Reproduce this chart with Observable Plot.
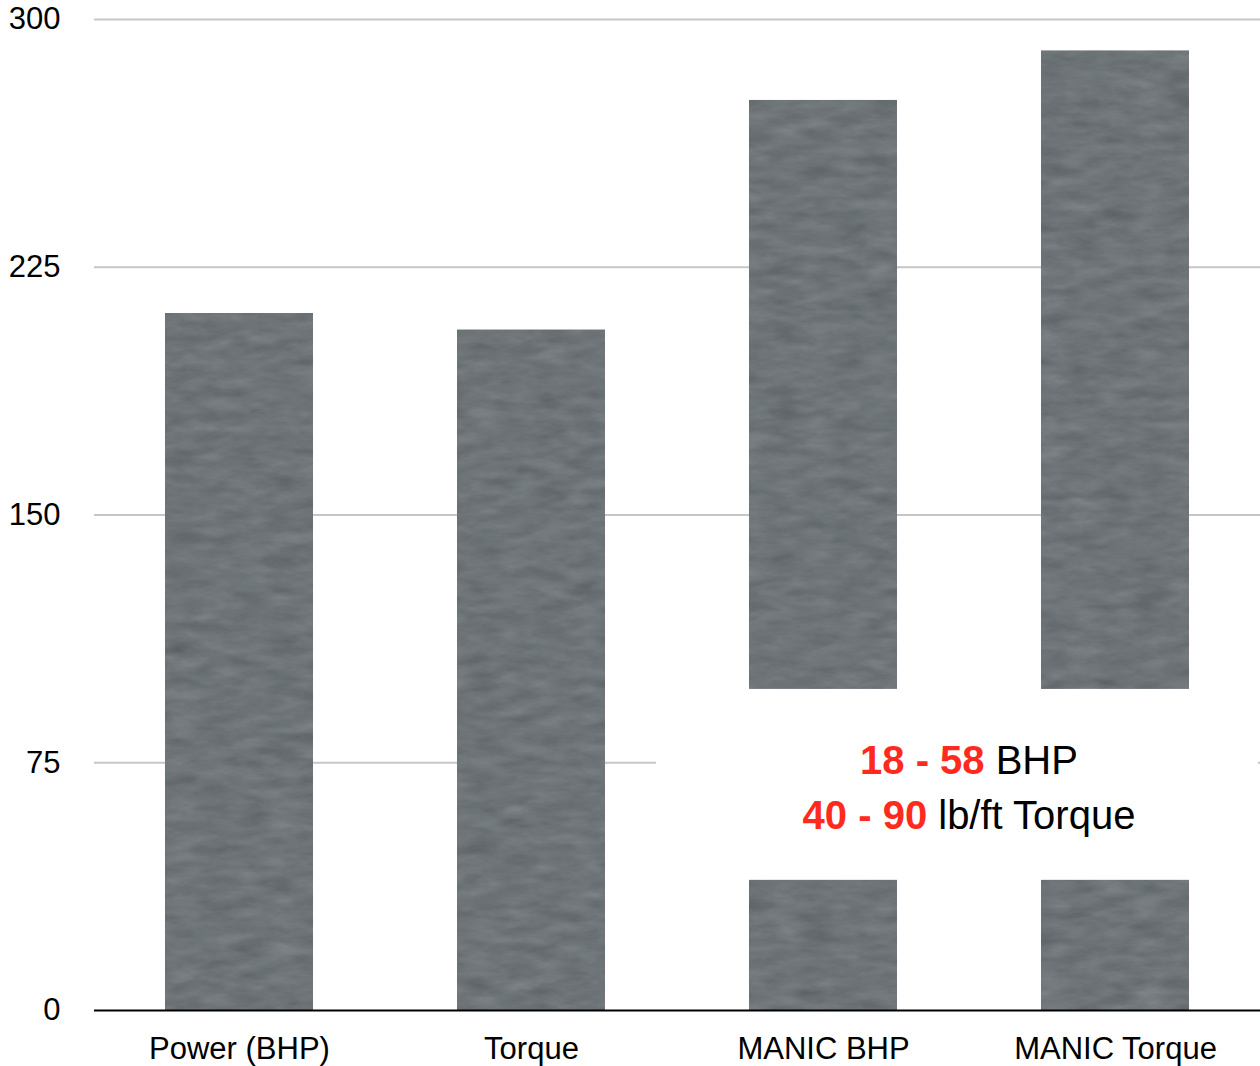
<!DOCTYPE html>
<html>
<head>
<meta charset="utf-8">
<script src="https://cdn.jsdelivr.net/npm/d3@7"></script>
<script src="https://cdn.jsdelivr.net/npm/@observablehq/plot@0.6"></script>
<style>
  body { margin: 0; background: #fff; }
  #chart svg { display: block; }
</style>
</head>
<body>
<div id="chart"></div>
<script>
// ---- data ----
const categories = ["Power (BHP)", "Torque", "MANIC BHP", "MANIC Torque"];
const values = [211, 206, 275.5, 290.5];
const yTicks = [0, 75, 150, 225, 300];
const breakRange = [39.4, 97.2]; // span of the MANIC bars hidden by the note
const noteBold = ["18 - 58", "40 - 90"];
const noteRest = [" BHP", " lb/ft Torque"];

const data = categories.map((c, i) => ({category: c, value: values[i]}));

const FONT = "'Liberation Sans', Arial, Helvetica, sans-serif";

function annotation(index, scales, vals, dims) {
  const {x, y} = scales;
  const bw = x.bandwidth ? x.bandwidth() : 148;
  const g = d3.create("svg:g");
  const left = x("MANIC BHP") - 93;
  const right = dims.width - dims.marginRight - 2;
  const top = y(breakRange[1]);
  const bottom = y(breakRange[0]);
  g.append("rect")
    .attr("x", left).attr("y", top)
    .attr("width", right - left).attr("height", bottom - top)
    .attr("fill", "#fff");
  const cx = (x("MANIC BHP") + x("MANIC Torque") + bw) / 2;
  const mid = (top + bottom) / 2;
  const baselines = [mid - 10, mid + 45];
  noteBold.forEach((b, i) => {
    const t = g.append("text")
      .attr("x", cx).attr("y", baselines[i])
      .attr("text-anchor", "middle")
      .attr("font-family", FONT)
      .attr("font-size", 40);
    t.append("tspan").attr("fill", "#fe2a1d").attr("font-weight", "bold").text(b);
    t.append("tspan").attr("fill", "#000").text(noteRest[i]);
  });
  return g.node();
}

const chart = Plot.plot({
  width: 1260,
  height: 1066,
  marginLeft: 94,
  marginRight: 0,
  marginTop: 19,
  marginBottom: 56,
  style: {fontFamily: FONT, fontSize: "31px", color: "#000", background: "#fff", overflow: "visible"},
  x: {domain: categories, paddingInner: 0.492, paddingOuter: 0.24, label: null, tickSize: 0, tickPadding: 26},
  y: {domain: [0, 300], ticks: yTicks, label: null, tickSize: 0, tickPadding: 34},
  marks: [
    Plot.ruleY(yTicks.filter(d => d > 0), {stroke: "#c6c6c6", strokeWidth: 2}),
    Plot.barY(data, {x: "category", y: "value", fill: "#5b6870"}),
    annotation,
    Plot.ruleY([0], {stroke: "#000", strokeWidth: 2})
  ]
});

// subtle paper-like texture on the bars
const svg = d3.select(chart.tagName.toLowerCase() === "svg" ? chart : chart.querySelector("svg"));
const defs = svg.insert("defs", ":first-child");
const f = defs.append("filter").attr("id", "paper")
  .attr("x", "0").attr("y", "0").attr("width", "100%").attr("height", "100%")
  .attr("color-interpolation-filters", "sRGB");
f.append("feTurbulence").attr("type", "fractalNoise").attr("baseFrequency", "0.03 0.09")
  .attr("numOctaves", 4).attr("seed", 7).attr("result", "noise");
f.append("feColorMatrix").attr("in", "noise").attr("type", "matrix")
  .attr("values", "0.08 0.08 0.08 0 0.38  0.08 0.08 0.08 0 0.38  0.08 0.08 0.08 0 0.38  0 0 0 0 1")
  .attr("result", "gray");
f.append("feBlend").attr("in", "SourceGraphic").attr("in2", "gray").attr("mode", "soft-light").attr("result", "blend");
f.append("feComposite").attr("in", "blend").attr("in2", "SourceGraphic").attr("operator", "in");
svg.selectAll("g[aria-label='bar']").attr("filter", "url(#paper)");

document.getElementById("chart").appendChild(chart);
</script>
</body>
</html>
